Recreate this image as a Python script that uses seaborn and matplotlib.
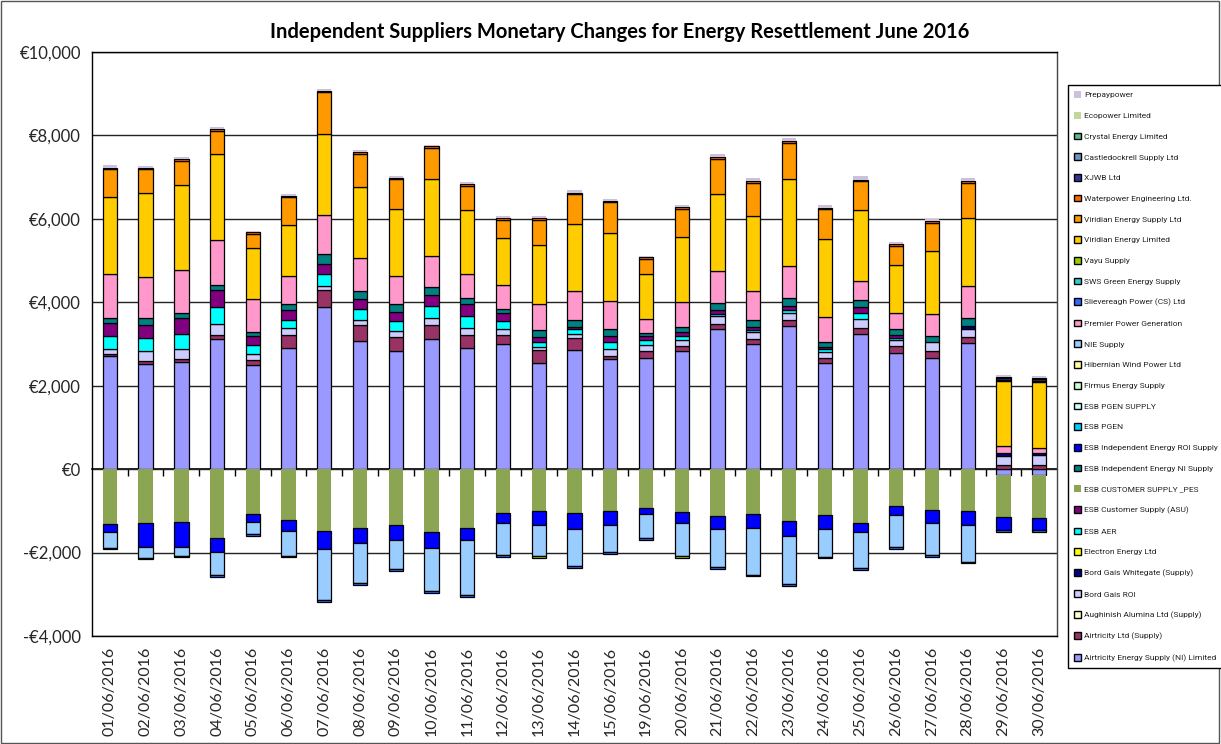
import matplotlib
matplotlib.use("Agg")
import matplotlib.pyplot as plt
import seaborn as sns
import numpy as np
import pandas as pd
from matplotlib.patches import Patch, Rectangle
from matplotlib.ticker import FuncFormatter

# ---------------- data ----------------
dates = ["01/06/2016", "02/06/2016", "03/06/2016", "04/06/2016", "05/06/2016",
         "06/06/2016", "07/06/2016", "08/06/2016", "09/06/2016", "10/06/2016",
         "11/06/2016", "12/06/2016", "13/06/2016", "14/06/2016", "15/06/2016",
         "19/06/2016", "20/06/2016", "21/06/2016", "22/06/2016", "23/06/2016",
         "24/06/2016", "25/06/2016", "26/06/2016", "27/06/2016", "28/06/2016",
         "29/06/2016", "30/06/2016"]
N = len(dates)
Z = [0] * N

airtricity_ni = [2706, 2530, 2570, 3130, 2490, 2914, 3888, 3066, 2826, 3130, 2914, 3010, 2555, 2850,
                 2650, 2674, 2826, 3369, 3010, 3425, 2546, 3250, 2794, 2674, 3026, -150, -150]
airtricity_ltd = [44, 56, 63, 80, 137, 312, 415, 399, 343, 335, 303, 199, 295, 303,
                  72, 152, 128, 120, 120, 160, 128, 143, 151, 160, 144, 88, 90]
aughinish = Z
bord_gais_roi = [140, 248, 257, 280, 143, 167, 87, 120, 136, 167, 176, 160, 79, 80,
                 168, 144, 136, 175, 159, 159, 136, 215, 160, 215, 199, 232, 245]
bord_gais_whitegate = [0] * 24 + [64, 71, 40]
electron = Z
esb_aer = [295, 319, 360, 398, 200, 192, 280, 255, 247, 280, 279, 183, 120, 120,
           152, 120, 111, 64, 56, 80, 60, 144, 48, 0, 0, 0, 0]
esb_asu = [315, 312, 374, 399, 223, 223, 256, 248, 215, 263, 296, 192, 120, 56,
           143, 95, 88, 80, 64, 96, 60, 136, 72, 0, 0, 0, 0]
esb_pes = [-1317, -1301, -1277, -1645, -1078, -1222, -1485, -1420, -1330, -1500, -1420, -1050, -1000, -1050,
           -1000, -930, -1030, -1130, -1080, -1250, -1100, -1280, -880, -980, -1000, -1007, -1015]
esb_indep_ni = [115, 159, 120, 136, 96, 152, 240, 183, 185, 191, 144, 104, 160, 176,
                184, 88, 120, 176, 160, 176, 119, 160, 128, 144, 191, 0, 0]
esb_indep_roi = [-200, -559, -583, -335, -184, -255, -439, -360, -370, -380, -280, -230, -330, -380,
                 -330, -150, -250, -300, -320, -350, -330, -220, -220, -320, -330, -304, -296]
esb_pgen = Z
esb_pgen_supply = Z
firmus = Z
hibernian = Z
nie_supply = [-368, -264, -216, -559, -303, -607, -1214, -960, -700, -1040, -1320, -780, -750, -890,
              -660, -580, -800, -920, -1130, -1160, -670, -880, -770, -760, -890, 0, 0]
premier = [1055, 982, 1022, 1077, 783, 662, 934, 799, 670, 735, 575, 559, 623, 678,
           671, 320, 599, 758, 694, 766, 599, 455, 399, 520, 759, 160, 120]
slievereagh = [-40, -40, -40, -41, -40, -32, -40, -40, -40, -40, -40, -40, 0, -40,
               -40, -40, 0, -40, -40, -40, -40, -40, -40, -40, -40, -40, -40]
sws = Z
vayu = [0] * 12 + [-50] + [0] * 3 + [-50] + [0] * 10
viridian_ltd = [1850, 2012, 2036, 2060, 1238, 1238, 1940, 1692, 1605, 1845, 1532, 1142, 1429, 1605,
                1629, 1085, 1549, 1853, 1813, 2092, 1877, 1716, 1134, 1517, 1637, 1564, 1597]
viridian_supply = [665, 567, 575, 543, 335, 662, 996, 798, 719, 750, 575, 431, 599, 719,
                   726, 359, 686, 838, 782, 870, 702, 687, 463, 670, 838, 0, 0]
waterpower = [45, 45, 48, 47, 35, 33, 40, 40, 39, 39, 48, 40, 40, 40,
              40, 40, 40, 40, 40, 48, 40, 32, 40, 40, 40, 30, 30]
xjwb = [0] * 25 + [30, 30]
castledockrell = [0] * 25 + [36, 36]
crystal = Z
ecopower = Z
prepay = [60, 40, 55, 50, 40, 45, 40, 40, 40, 45, 38, 40, 40, 53,
          45, 43, 57, 70, 72, 72, 63, 82, 51, 60, 80, 56, 52]

series = [
    ("Airtricity Energy Supply (NI) Limited", airtricity_ni, "#9999FF", True),
    ("Airtricity Ltd (Supply)", airtricity_ltd, "#993366", True),
    ("Aughinish Alumina Ltd (Supply)", aughinish, "#FFFFCC", True),
    ("Bord Gais ROI", bord_gais_roi, "#CCCCFF", True),
    ("Bord Gais Whitegate (Supply)", bord_gais_whitegate, "#000080", True),
    ("Electron Energy Ltd", electron, "#FFFF00", True),
    ("ESB AER", esb_aer, "#00FFFF", True),
    ("ESB Customer Supply (ASU)", esb_asu, "#800080", True),
    ("ESB CUSTOMER SUPPLY _PES", esb_pes, "#8CA552", False),
    ("ESB Independent Energy NI Supply", esb_indep_ni, "#008080", True),
    ("ESB Independent Energy ROI Supply", esb_indep_roi, "#0000FF", True),
    ("ESB PGEN", esb_pgen, "#00CCFF", True),
    ("ESB PGEN SUPPLY", esb_pgen_supply, "#CCFFFF", True),
    ("Firmus Energy Supply", firmus, "#CCFFCC", True),
    ("Hibernian Wind Power Ltd", hibernian, "#FFFF99", True),
    ("NIE Supply", nie_supply, "#99CCFF", True),
    ("Premier Power Generation", premier, "#FF99CC", True),
    ("Slievereagh Power (CS) Ltd", slievereagh, "#3366FF", True),
    ("SWS Green Energy Supply", sws, "#33CCCC", True),
    ("Vayu Supply", vayu, "#99CC00", True),
    ("Viridian Energy Limited", viridian_ltd, "#FFCC00", True),
    ("Viridian Energy Supply Ltd", viridian_supply, "#FF9900", True),
    ("Waterpower Engineering Ltd.", waterpower, "#FF6600", True),
    ("XJWB Ltd", xjwb, "#333399", True),
    ("Castledockrell Supply Ltd", castledockrell, "#6F93BF", True),
    ("Crystal Energy Limited", crystal, "#5FB98A", True),
    ("Ecopower Limited", ecopower, "#C4D79B", False),
    ("Prepaypower", prepay, "#CCC0DA", False),
]

# ---------------- style ----------------
sns.set_theme(style="white")
plt.rcParams["font.family"] = ["Lato", "DejaVu Sans"]

fig = plt.figure(figsize=(12.21, 7.44), dpi=100)
ax = fig.add_axes([92 / 1221, 1 - 636 / 744, (1057 - 92) / 1221, (636 - 52) / 744])

pos_base = np.zeros(N)
neg_base = np.zeros(N)
for name, vals, col, edged in series:
    v = np.array(vals, dtype=float)
    if not np.any(v != 0):
        continue
    bottoms = np.where(v >= 0, pos_base, neg_base)
    sns.barplot(x=dates, y=v, bottom=bottoms, color=col, saturation=1, width=0.4,
                errorbar=None, ax=ax,
                edgecolor="black" if edged else col,
                linewidth=0.9 if edged else 0)
    pos_base = pos_base + np.where(v > 0, v, 0)
    neg_base = neg_base + np.where(v < 0, v, 0)

for p in ax.patches:
    if abs(p.get_height()) < 1e-9:
        p.set_visible(False)

ax.set_xlim(-0.5, N - 0.5)
ax.set_ylim(-4000, 10000)
ax.set_yticks(np.arange(-4000, 10001, 2000))


def euro(x, pos):
    if x < 0:
        return "-€{:,.0f}".format(-x)
    return "€{:,.0f}".format(x)


ax.yaxis.set_major_formatter(FuncFormatter(euro))
ax.yaxis.grid(True, color="#222222", linewidth=1.0)
ax.xaxis.grid(False)
ax.set_axisbelow(True)
ax.tick_params(axis="y", direction="out", length=5, width=1, color="black",
               labelsize=12, pad=3)
ax.tick_params(axis="x", length=0, labelsize=11.5, pad=8)
ax.set_xticks(range(N))
ax.set_xticklabels(dates, rotation=90)
ax.set_xlabel("")
ax.set_ylabel("")
for s in ax.spines.values():
    s.set_visible(True)
    s.set_color("black")
    s.set_linewidth(1.0)
ax.spines["right"].set_color("#444444")

# category axis crossing at zero
sec = ax.secondary_xaxis(4000 / 14000)
sec.set_xticks([i + 0.5 for i in range(N - 1)])
sec.set_xticklabels([])
sec.tick_params(direction="out", length=5, width=1, color="black")
sec.spines["bottom"].set_color("black")
sec.spines["bottom"].set_linewidth(1.2)

fig.text(620 / 1221, 1 - 32 / 744, "Independent Suppliers Monetary Changes for Energy Resettlement June 2016",
         ha="center", va="center", fontsize=14.5, fontweight="bold", color="black")

# legend (reverse order, like Excel)
handles = []
for name, vals, col, edged in series[::-1]:
    handles.append(Patch(facecolor=col, edgecolor="black" if edged else col,
                         linewidth=1.0 if edged else 0, label=name))
leg = fig.legend(handles=handles, loc="upper left", bbox_to_anchor=(1068 / 1221, 1 - 85 / 744),
                 frameon=True, fancybox=False, edgecolor="black", framealpha=1,
                 prop={"family": ["Roboto", "DejaVu Sans"], "size": 6.0},
                 handlelength=0.85, handleheight=0.85, handletextpad=0.3,
                 labelspacing=1.62, borderpad=0.75, borderaxespad=0)
leg.get_frame().set_linewidth(1.0)
for t in leg.get_texts():
    t.set_color("#222222")

fig.patches.append(Rectangle((0.0005, 0.001), 0.998, 0.998, transform=fig.transFigure,
                             fill=False, edgecolor="#555555", linewidth=1))

fig.savefig("out.png", dpi=100, facecolor="white")
